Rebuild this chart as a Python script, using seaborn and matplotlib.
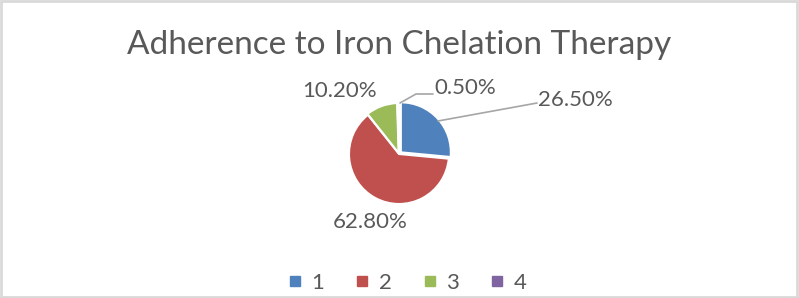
import matplotlib.pyplot as plt
import seaborn as sns
from matplotlib.patches import Rectangle
from matplotlib.lines import Line2D

# datos
categorias = ["1", "2", "3", "4"]
valores = [26.5, 62.8, 10.2, 0.5]
etiquetas = ["26.50%", "62.80%", "10.20%", "0.50%"]
colores = ["#4F81BD", "#C0504D", "#9BBB59", "#8064A2"]

sns.set_theme(style="white")
plt.rcParams["font.family"] = ["Lato", "DejaVu Sans"]
gris = "#595959"

W, H = 799, 298
fig = plt.figure(figsize=(W / 100, H / 100), dpi=100)

# centro del pastel (px) y radio
cx, cy, r = 399, 154, 50
ax = fig.add_axes([(cx - r) / W, (H - cy - r) / H, 2 * r / W, 2 * r / H])
wedges, _ = ax.pie(valores, colors=sns.color_palette(colores), startangle=90,
                   counterclock=False, explode=[0.05, 0, 0.02, 0],
                   wedgeprops=dict(edgecolor="white", linewidth=1.5))
ax.set_xlim(-1, 1)
ax.set_ylim(-1, 1)
ax.set_aspect("auto")
ax.axis("off")


def px(x, y):
    return ((x - cx) / r, (cy - y) / r)


# etiquetas de datos
pos = {"26.50%": (575, 100), "62.80%": (370, 222), "10.20%": (340, 91), "0.50%": (465, 88)}
for t in etiquetas:
    ax.text(*px(*pos[t]), t, ha="center", va="center", fontsize=16, color=gris, clip_on=False)

# lineas guia
lx, ly = zip(*[px(438, 121), px(537, 103)])
ax.plot(lx, ly, color="#A6A6A6", lw=1.2, clip_on=False)
lx, ly = zip(*[px(400, 103), px(416, 94), px(433, 94)])
ax.plot(lx, ly, color="#A6A6A6", lw=1.2, clip_on=False)

fig.text(0.5, (H - 45) / H, "Adherence to Iron Chelation Therapy", ha="center", va="center",
         fontsize=24, color=gris)

handles = [Line2D([], [], marker="s", linestyle="none", markersize=6.5, color=c) for c in colores]
leg = fig.legend(handles, categorias, loc="center", bbox_to_anchor=(408 / W, (H - 283) / H),
                 ncol=4, frameon=False, fontsize=16, handlelength=0.5,
                 handletextpad=0.5, columnspacing=1.45, labelcolor=gris)

fig.patches.append(Rectangle((0.001, 0.002), 0.997, 0.995, transform=fig.transFigure,
                             fill=False, edgecolor="#D9D9D9", linewidth=2))

fig.savefig("out.png", dpi=100, facecolor="white")
